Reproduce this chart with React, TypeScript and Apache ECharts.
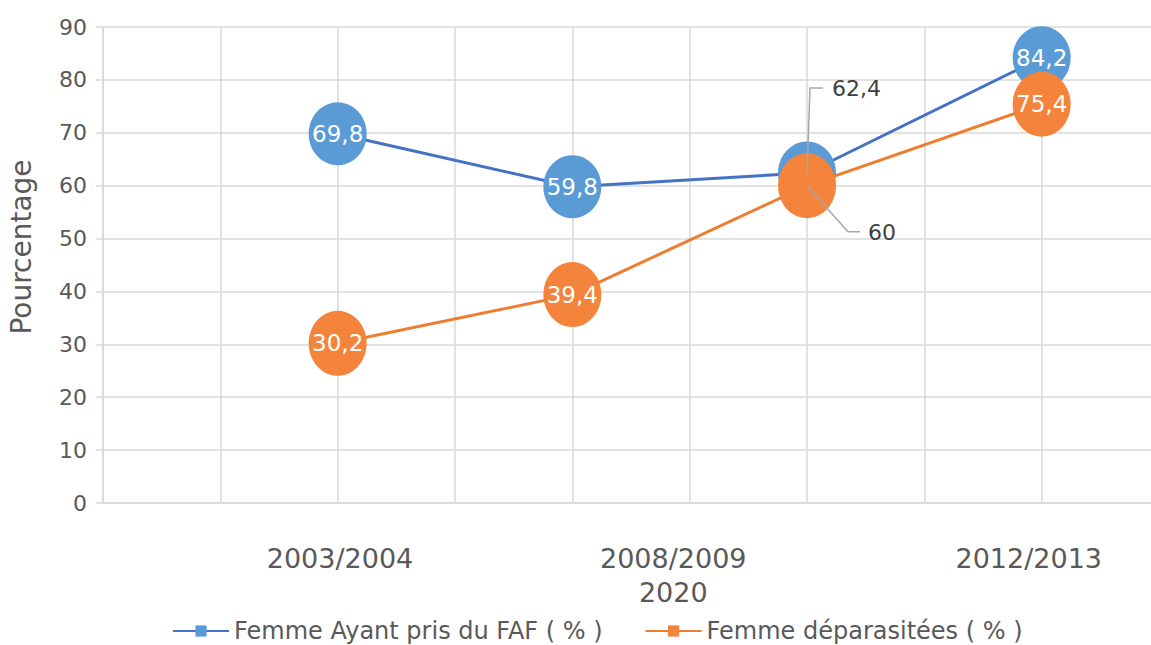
import React, { useEffect, useRef } from 'react';
import * as echarts from 'echarts';

// ---- data ----
const slotPositions = [2, 4, 6, 8];
const categoryLabels = ['2003/2004', '2008/2009\n2020', '2012/2013'];
const categoryLabelSlots = [2.02, 4.86, 7.89];
const seriesNames = ['Femme Ayant pris du FAF ( % )', 'Femme déparasitées ( % )'];
const fafValues = [69.8, 59.8, 62.4, 84.2];
const dewormValues = [30.2, 39.4, 60, 75.4];
const yMin = 0;
const yMax = 90;
const yStep = 10;
const xSlotMax = 9;

// index of the point whose labels sit outside with a leader line
const OUTSIDE_IDX = 2;

const FONT = 'DejaVu Sans';
const TEXT = '#595959';
const GRID = '#d9d9d9';
const LEADER = '#a6a6a6';

// leader-line / label offsets (px) relative to the point centre
const BLUE_LEADER = { bendDx: 3, dy: -85, endDx: 16, labelDx: 25 };
const ORANGE_LEADER = { bendDx: 41, dy: 46, endDx: 53, labelDx: 61 };

const fmt = (v: number) => String(v).replace('.', ',');

function buildData(values: number[]) {
  return values.map((v, i) => {
    const item: any = { value: [slotPositions[i], v], symbol: 'circle' };
    if (i === OUTSIDE_IDX) {
      item.label = { color: '#404040', fontSize: 22 };
    }
    return item;
  });
}

function outsideLayout(o: { dy: number; labelDx: number }) {
  return (p: any) => {
    if (p.dataIndex !== OUTSIDE_IDX) return {};
    const cx = p.rect.x + p.rect.width / 2;
    const cy = p.rect.y + p.rect.height / 2;
    return { x: cx + o.labelDx, y: cy + o.dy + 1, align: 'left', verticalAlign: 'middle' };
  };
}

export default function App() {
  const ref = useRef<HTMLDivElement>(null);
  useEffect(() => {
    if (!ref.current) return;
    const chart = echarts.init(ref.current, null, { renderer: 'svg' });
    const labelCommon = {
      show: true,
      position: 'inside',
      color: '#ffffff',
      fontFamily: FONT,
      fontSize: 23,
      formatter: (p: any) => fmt(p.value[1]),
    };
    chart.setOption({
      animation: false,
      textStyle: { fontFamily: FONT },
      grid: {
        left: 103,
        top: 27,
        width: 1056,
        height: 476,
        outerBoundsMode: 'none',
      },
      legend: {
        left: 167,
        top: 613,
        itemWidth: 56,
        itemHeight: 14,
        itemGap: 42,
        textStyle: { color: TEXT, fontSize: 24, lineHeight: 26, fontFamily: FONT },
        data: seriesNames,
      },
      xAxis: {
        type: 'value',
        min: 0,
        max: xSlotMax,
        interval: 1,
        axisLine: { show: true, lineStyle: { color: GRID, width: 1.5 } },
        axisTick: { show: false },
        splitLine: { show: true, lineStyle: { color: GRID, width: 1.5 } },
        axisLabel: {
          customValues: categoryLabelSlots,
          margin: 38,
          color: TEXT,
          fontSize: 27,
          lineHeight: 34,
          fontFamily: FONT,
          formatter: (v: number) => {
            let best = 0;
            categoryLabelSlots.forEach((s, i) => {
              if (Math.abs(s - v) < Math.abs(categoryLabelSlots[best] - v)) best = i;
            });
            return categoryLabels[best];
          },
        },
      },
      yAxis: {
        type: 'value',
        min: yMin,
        max: yMax,
        interval: yStep,
        name: 'Pourcentage',
        nameLocation: 'middle',
        nameGap: 68,
        nameRotate: 90,
        nameTextStyle: { color: TEXT, fontSize: 28, fontFamily: FONT, padding: [0, 0, 0, 36] },
        axisLine: { show: true, lineStyle: { color: GRID, width: 1.5 } },
        axisTick: { show: true, length: 7, lineStyle: { color: GRID, width: 1.5 } },
        splitLine: { show: true, lineStyle: { color: GRID, width: 1.5 } },
        axisLabel: { color: TEXT, fontSize: 22, margin: 16, fontFamily: FONT },
      },
      series: [
        {
          name: seriesNames[0],
          type: 'line',
          data: buildData(fafValues),
          symbol: 'rect',
          symbolSize: [58, 63],
          lineStyle: { color: '#4472C4', width: 3 },
          itemStyle: { color: '#5B9BD5' },
          label: labelCommon,
          labelLayout: outsideLayout(BLUE_LEADER),
          z: 2,
        },
        {
          name: seriesNames[1],
          type: 'line',
          data: buildData(dewormValues),
          symbol: 'rect',
          symbolSize: [58, 65],
          lineStyle: { color: '#ED7D31', width: 3 },
          itemStyle: { color: '#F4843C' },
          label: labelCommon,
          labelLayout: outsideLayout(ORANGE_LEADER),
          z: 3,
        },
      ],
    });

    const leader = (value: number, o: typeof BLUE_LEADER) => {
      const c = chart.convertToPixel({ gridIndex: 0 }, [slotPositions[OUTSIDE_IDX], value]) as number[];
      return {
        type: 'polyline',
        z: 100,
        shape: {
          points: [
            [c[0], c[1]],
            [c[0] + o.bendDx, c[1] + o.dy],
            [c[0] + o.endDx, c[1] + o.dy],
          ],
        },
        style: { stroke: LEADER, lineWidth: 1.5, fill: null },
      };
    };
    chart.setOption({
      graphic: [
        leader(fafValues[OUTSIDE_IDX], BLUE_LEADER),
        leader(dewormValues[OUTSIDE_IDX], ORANGE_LEADER),
      ],
    });
    return () => chart.dispose();
  }, []);
  return (
    <div
      ref={ref}
      style={{ position: 'fixed', left: 0, top: 0, width: 1151, height: 645, background: '#fff' }}
    />
  );
}
